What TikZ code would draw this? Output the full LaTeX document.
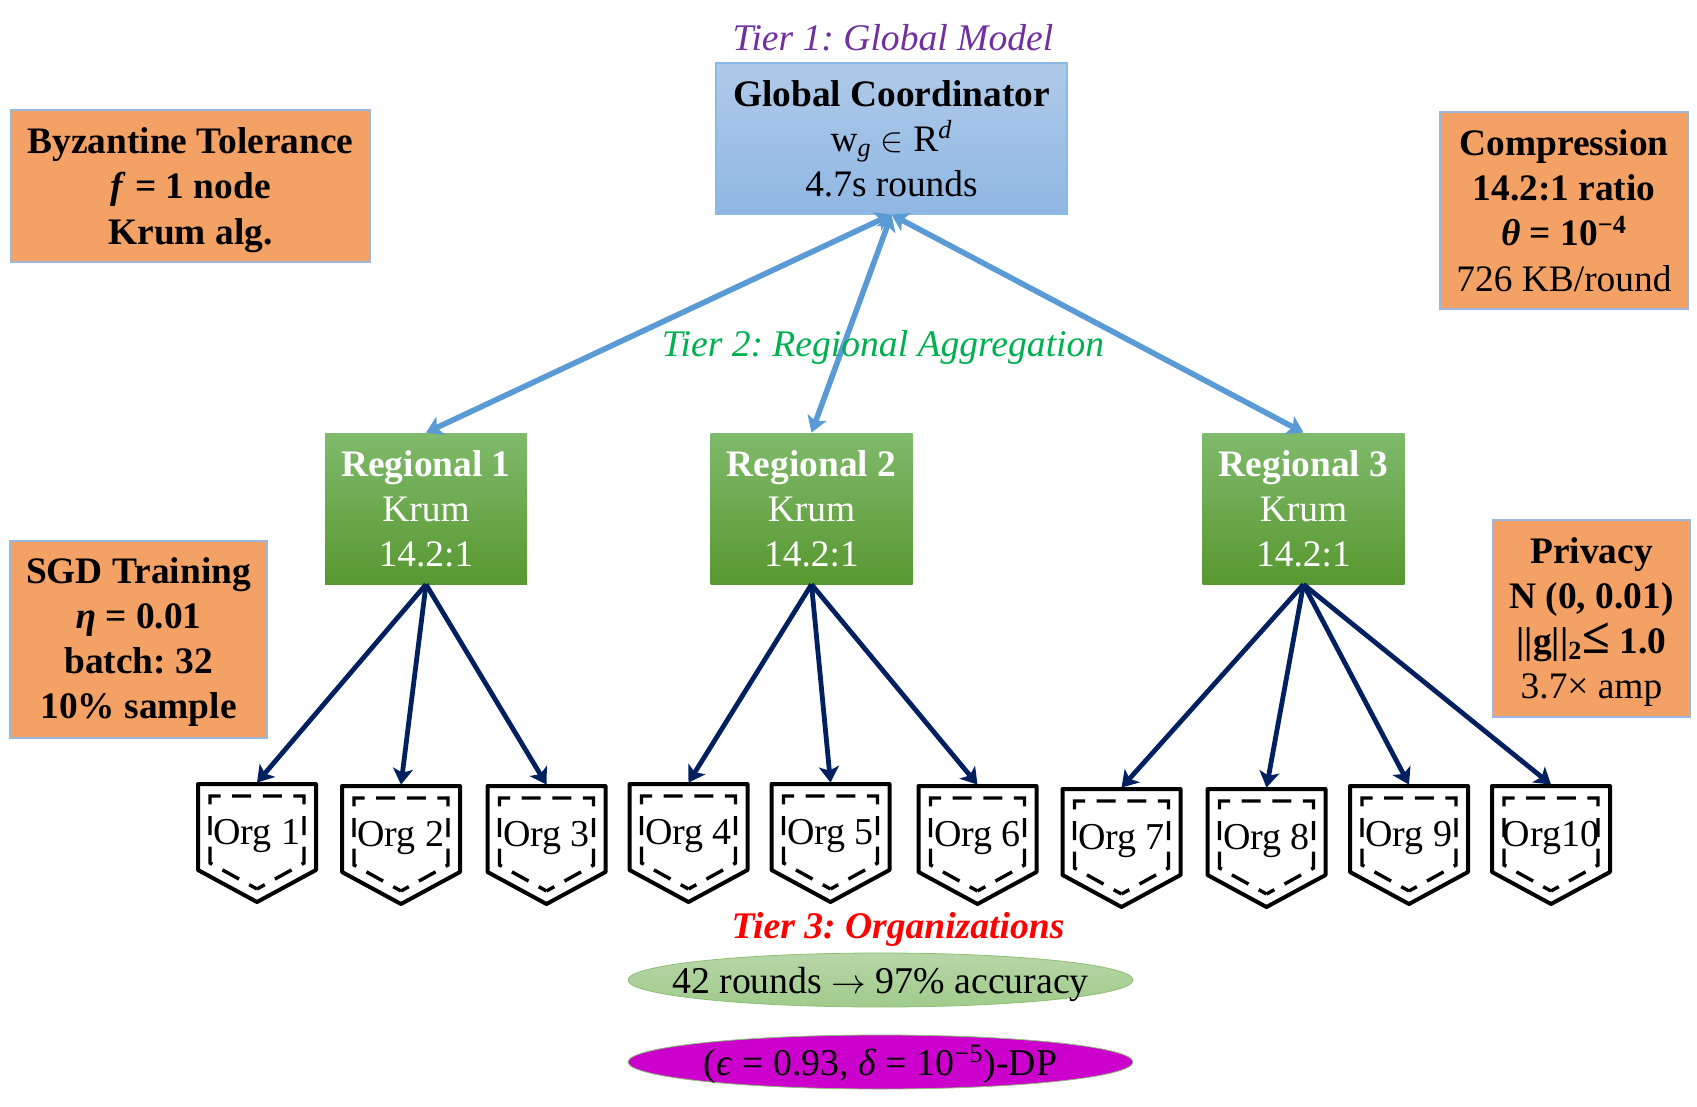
\documentclass[tikz,border=0pt]{standalone}
\usepackage{fontspec}
\setmainfont{Liberation Serif}
\usetikzlibrary{arrows.meta,shapes.geometric}

\definecolor{panelorange}{HTML}{F4A166}
\definecolor{paneledge}{HTML}{9DB7DC}
\definecolor{uplink}{HTML}{5B9BD5}
\definecolor{downlink}{HTML}{002060}
\definecolor{coordtop}{HTML}{AFCAE9}
\definecolor{coordbottom}{HTML}{8FB7E3}
\definecolor{regiontop}{HTML}{80BA6C}
\definecolor{regionbottom}{HTML}{589830}
\definecolor{pilltop}{HTML}{B8D6A8}
\definecolor{pillbottom}{HTML}{A0CB8C}
\definecolor{pilledge}{HTML}{8DBF74}
\definecolor{pillpurple}{HTML}{CC00CC}
\definecolor{tierpurple}{HTML}{7030A0}
\definecolor{tiergreen}{HTML}{00B050}

\tikzset{
    textsize/.style={font=\fontsize{18.7}{22.6}\selectfont},
    globalbox/.style={draw=uplink!70,line width=0.6pt,top color=coordtop,bottom color=coordbottom,
        minimum width=175.5pt,minimum height=75.5pt,inner sep=0pt,align=center,textsize},
    regionalbox/.style={top color=regiontop,bottom color=regionbottom,
        minimum width=101pt,minimum height=75.5pt,inner sep=0pt,align=center,text=white,textsize},
    panelbox/.style={draw=paneledge,line width=0.6pt,fill=panelorange,inner sep=0pt,align=center,textsize},
    orgbox/.style={minimum width=60pt,minimum height=60pt,inner sep=0pt,font=\fontsize{19}{22}\selectfont},
    pocket/.style={line width=2pt,line join=round},
    stitch/.style={line width=1.7pt,dash pattern=on 9.5pt off 5.8pt,dash phase=12.4pt},
    tierlabel/.style={font=\fontsize{18.8}{22}\selectfont\itshape},
    resultpill/.style={ellipse,draw=pilledge,inner sep=0pt,minimum width=252.5pt,minimum height=27pt,font=\fontsize{18.9}{22}\selectfont},
    upflow/.style={uplink,line width=2.8pt,{Stealth[length=8pt,width=10pt,inset=2pt]}-{Stealth[length=8pt,width=10pt,inset=2pt]}},
    downflow/.style={downlink,line width=2.4pt,-{Stealth[length=8pt,width=10pt,inset=2pt]}}
}

\begin{document}
\frenchspacing
\begin{tikzpicture}[x=0.5pt,y=-0.5pt]
    \useasboundingbox (0,0) rectangle (1697,1107);

    % Global coordinator and tier label
    \node[tierlabel,text=tierpurple] (tierone) at (893,38) {Tier 1: Global Model};
    \node[globalbox] (coordinator) at (891.5,138.5) {\textbf{Global Coordinator}\\w\textsubscript{\textit{g}} $\in$ R\textsuperscript{\textit{d}}\\4.7s rounds};

    % Regional aggregators
    \foreach \name/\cx/\num in {regionone/426/1,regiontwo/811.5/2,regionthree/1303.5/3}
        \node[regionalbox] (\name) at (\cx,508.5) {\textbf{Regional \num}\\Krum\\14.2:1};

    % Organizations, pocket outline with stitching
    \foreach \name/\cx/\cy/\label in {org1/257/843/Org 1,org2/401/845/Org 2,org3/546.5/845/Org 3,
        org4/688.5/843/Org 4,org5/830.5/843/Org 5,org6/977.5/845/Org 6,
        org7/1121.5/848/Org 7,org8/1266.5/848/Org 8,org9/1409/845/Org 9,org10/1551/845/Org10}{
        \begin{scope}[shift={(\cx,\cy)}]
            \draw[pocket] (-59,-59) -- (59,-59) -- (59,27) -- (0,59) -- (-59,27) -- cycle;
            \draw[stitch] (0,-47) -- (47,-47) -- (47,20) -- (0,46);
            \draw[stitch] (0,-47) -- (-47,-47) -- (-47,20) -- (0,46);
        \end{scope}
        \node[orgbox] (\name) at (\cx,\cy) {\raisebox{11pt}{\label}};
    }

    % Side panels
    \node[panelbox,minimum width=179.5pt,minimum height=76pt] (byzantine) at (190.5,186) {\rule{0pt}{17pt}\textbf{Byzantine Tolerance}\\\textbf{\textit{f} = 1 node}\\\textbf{Krum alg.}};
    \node[panelbox,minimum width=128.5pt,minimum height=98.5pt] (training) at (138.5,639.5) {\rule{0pt}{15.4pt}\textbf{SGD Training}\\\textbf{\textit{η} = 0.01}\\\textbf{batch: 32}\\\textbf{10\% sample}};
    \node[panelbox,minimum width=124pt,minimum height=98.5pt] (compression) at (1564,210.5) {\textbf{Compression}\\\textbf{14.2:1 ratio}\\\textbf{\textit{θ} = 10\textsuperscript{−4}}\\726 KB/round};
    \node[panelbox,minimum width=98.5pt,minimum height=98.5pt] (privacy) at (1591.5,618.5) {\rule{0pt}{16.5pt}\textbf{Privacy}\\\textbf{N (0, 0.01)}\\\textbf{||g||\textsubscript{2}\scalebox{1.35}{≤} 1.0}\\3.7× amp};

    % Flow between coordinator and regions
    \draw[upflow] (coordinator.south) -- (regionone.north);
    \draw[upflow] (coordinator.south) -- (regiontwo.north);
    \draw[upflow] (coordinator.south) -- (regionthree.north);

    % Flow from regions to organizations
    \foreach \from/\to in {regionone/org1,regionone/org2,regionone/org3,regiontwo/org4,regiontwo/org5,regiontwo/org6,
        regionthree/org7,regionthree/org8,regionthree/org9,regionthree/org10}
        \draw[downflow] (\from.south) -- (\to.north);

    % Tier labels over the arrows
    \node[tierlabel,text=tiergreen] (tiertwo) at (883,347) {Tier 2: Regional Aggregation};
    \node[tierlabel,font=\fontsize{18.8}{22}\selectfont\bfseries\itshape,text=red] (tierthree) at (898,929.5) {Tier 3: Organizations};

    % Result pills
    \node[resultpill,top color=pilltop,bottom color=pillbottom] (accuracy) at (880.5,980) {\makebox[0pt]{\raisebox{-6.5pt}[0pt][0pt]{42 rounds $\rightarrow$ 97\% accuracy}}};
    \node[resultpill,fill=pillpurple] (budget) at (880.5,1062) {\makebox[0pt]{\raisebox{-6.5pt}[0pt][0pt]{(\textit{ϵ} = 0.93, \textit{δ} = 10\textsuperscript{−5})-DP}}};
\end{tikzpicture}
\end{document}
